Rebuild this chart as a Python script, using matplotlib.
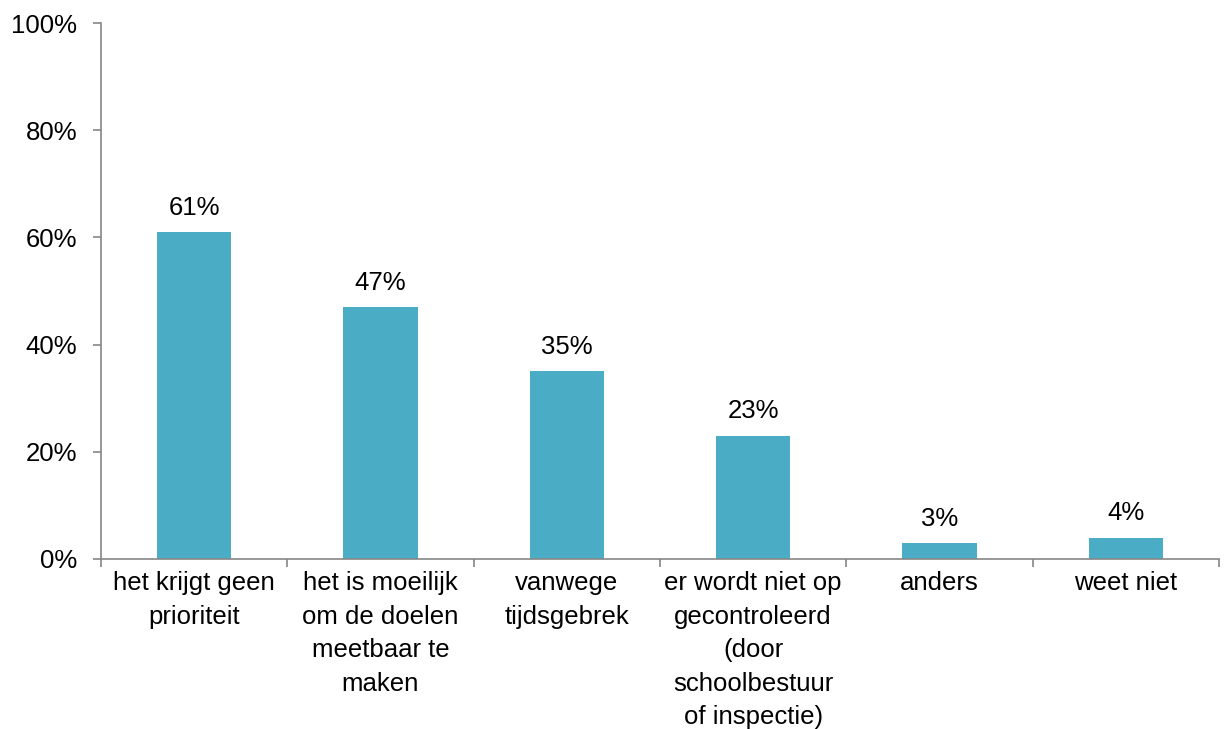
import matplotlib.pyplot as plt
import numpy as np

categories = ["het krijgt geen\nprioriteit",
              "het is moeilijk\nom de doelen\nmeetbaar te\nmaken",
              "vanwege\ntijdsgebrek",
              "er wordt niet op\ngecontroleerd\n(door\nschoolbestuur\nof inspectie)",
              "anders",
              "weet niet"]
values = [61, 47, 35, 23, 3, 4]
yticks = [0, 20, 40, 60, 80, 100]

plt.rcParams['font.family'] = ['Liberation Sans', 'DejaVu Sans']
fs = 18.5

fig = plt.figure(figsize=(12.27, 7.29), dpi=100)
ax = fig.add_axes([0.0823, 0.2332, 0.9112, 0.7352])

x = np.arange(len(values))
ax.bar(x, values, width=0.4, color='#4BACC6')
for xi, v in zip(x, values):
    ax.text(xi, v + 2.3, f"{v}%", ha='center', va='bottom', fontsize=fs)

ax.set_xlim(-0.5, len(values) - 0.5)
ax.set_ylim(0, 100)
ax.set_yticks(yticks)
ax.set_yticklabels([f"{t}%" for t in yticks], fontsize=fs)

# category labels between boundary ticks
ax.set_xticks(np.arange(len(values) + 1) - 0.5)
ax.set_xticklabels([])
ax.set_xticks(x, minor=True)
ax.set_xticklabels(categories, minor=True, fontsize=fs, linespacing=1.5, va='top')
ax.tick_params(axis='x', which='minor', length=0, pad=9)
ax.tick_params(axis='x', which='major', length=6, color='#868686', width=1.2)
ax.tick_params(axis='y', length=6, color='#868686', width=1.2, pad=11)

for s in ['top', 'right']:
    ax.spines[s].set_visible(False)
for s in ['left', 'bottom']:
    ax.spines[s].set_color('#868686')
    ax.spines[s].set_linewidth(1.2)

fig.savefig("out.png", dpi=100)
